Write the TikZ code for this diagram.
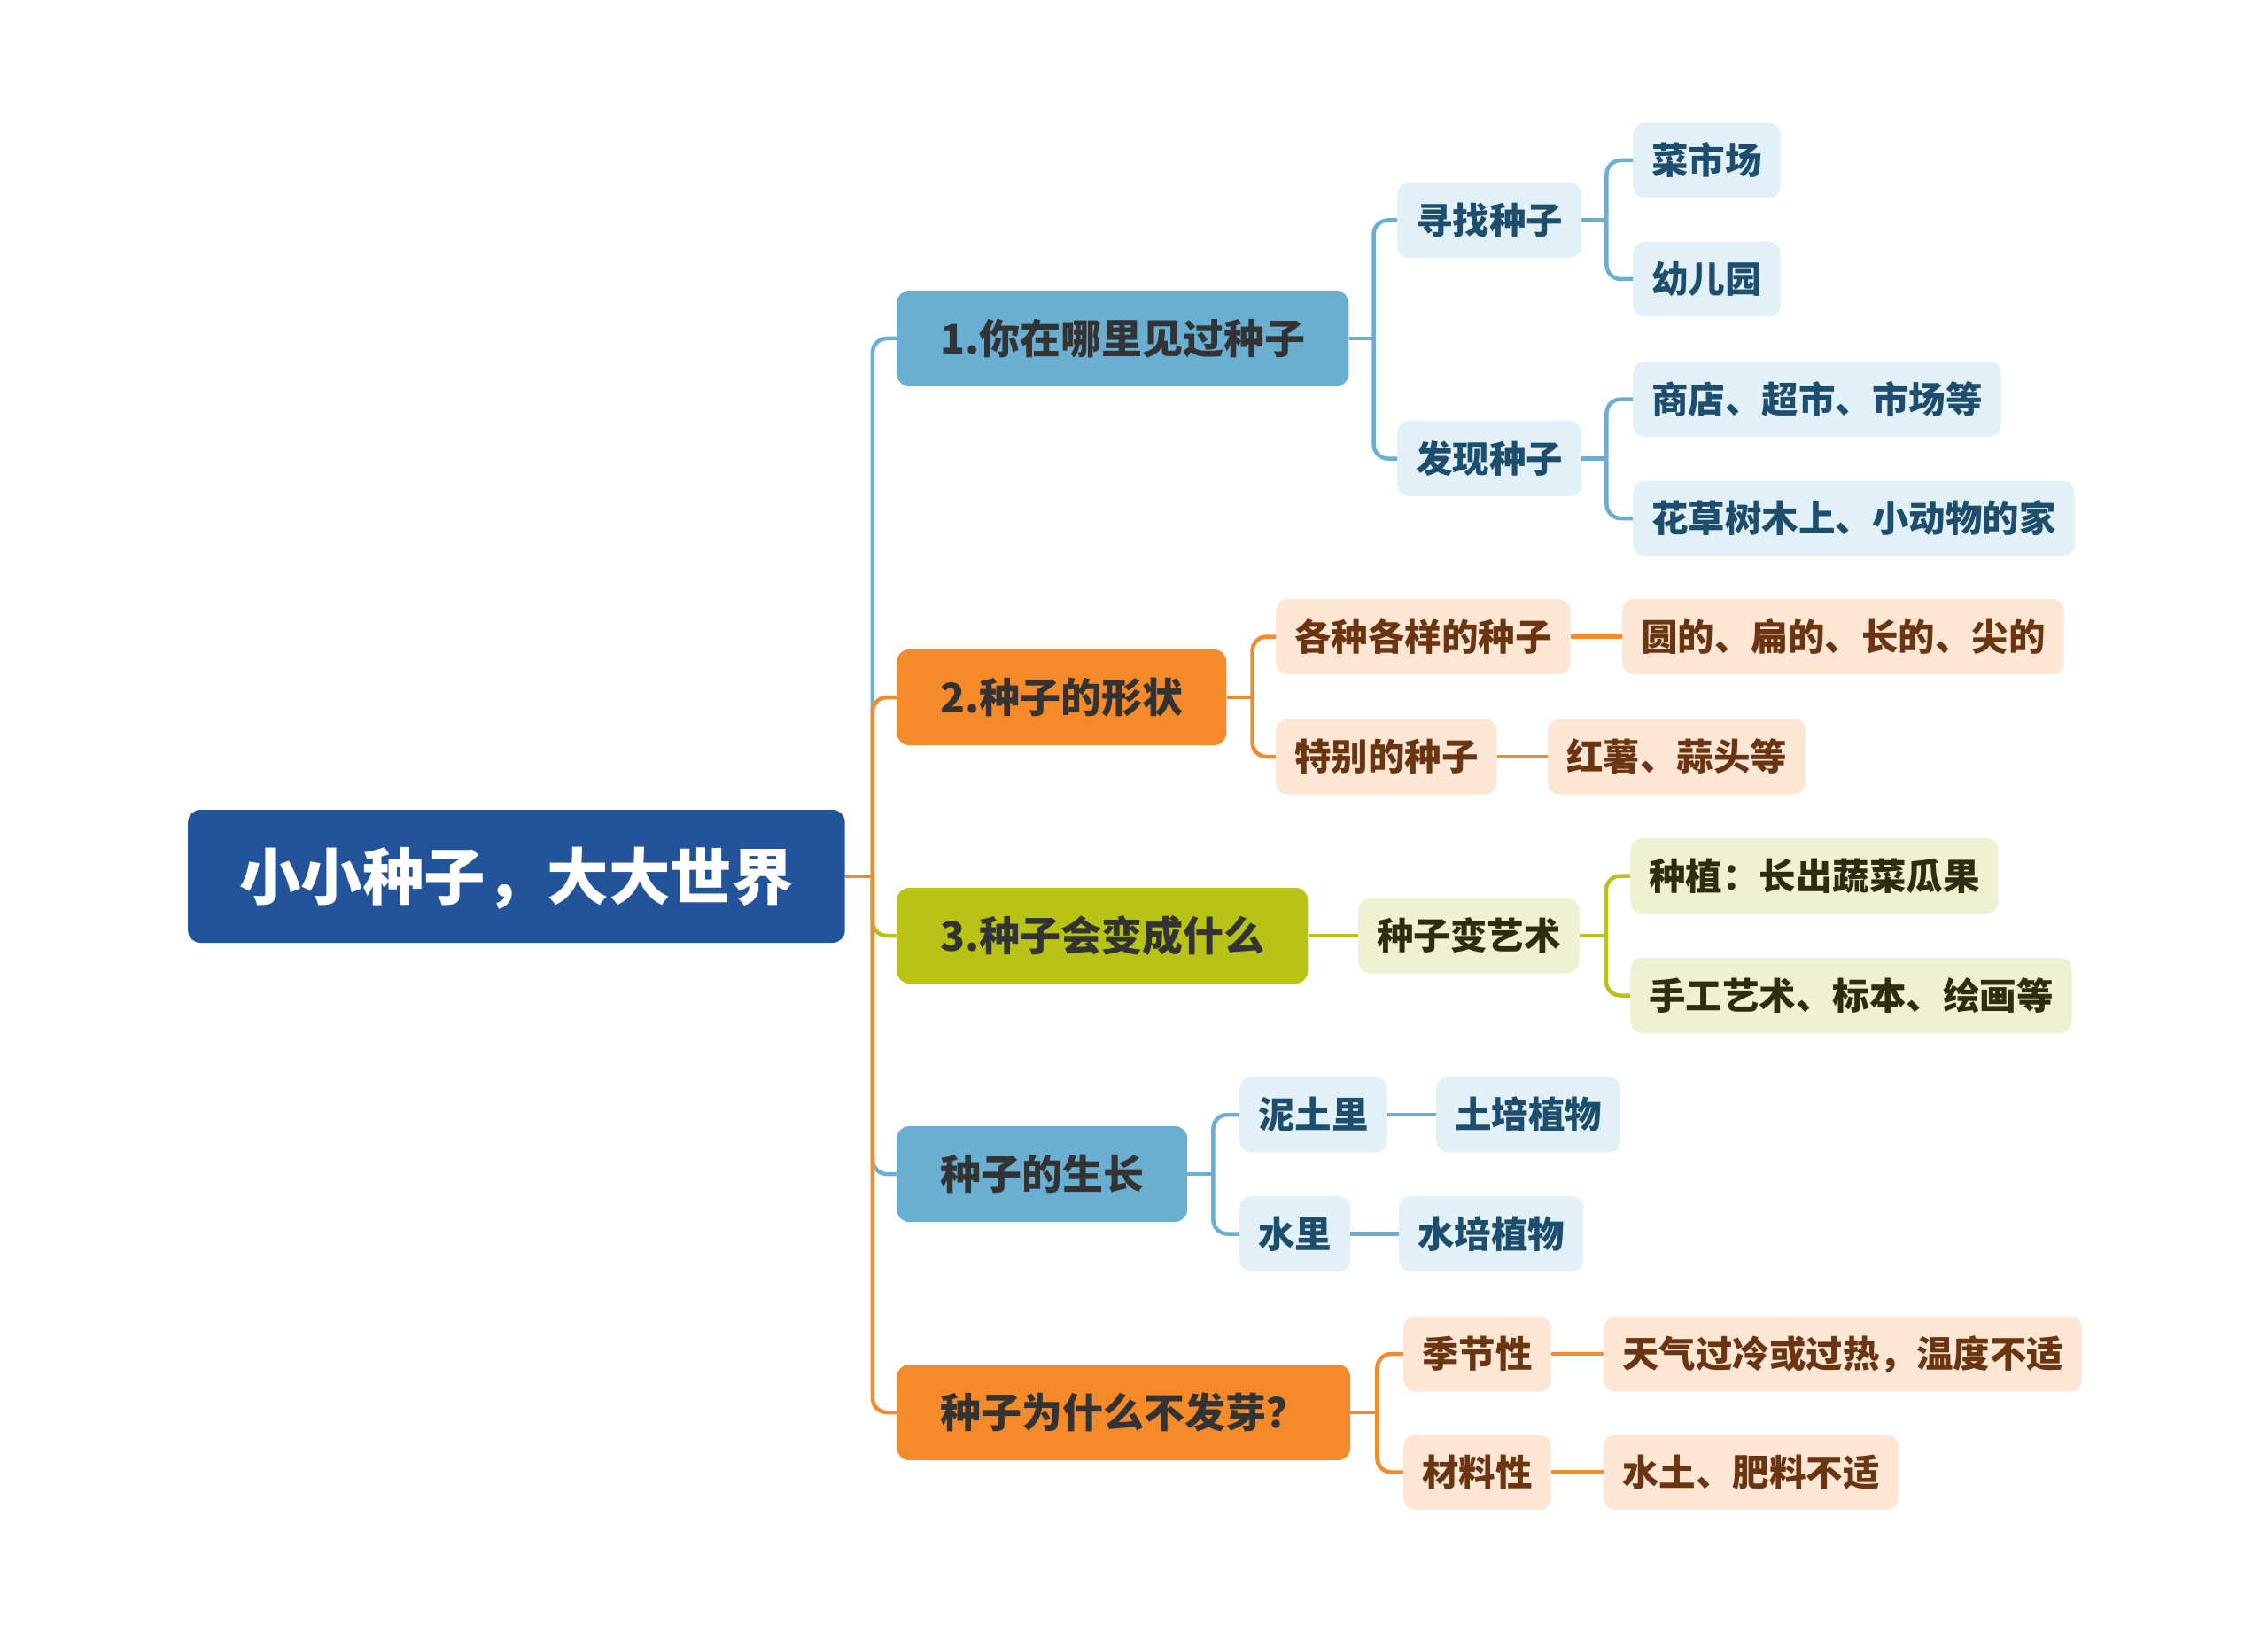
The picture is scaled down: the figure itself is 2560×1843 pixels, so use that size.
\documentclass[tikz,border=0pt]{standalone}
\usepackage{fontspec}
\setmainfont{Noto Sans CJK SC}
\usetikzlibrary{calc}
\definecolor{rootc}{HTML}{22539B}
\definecolor{bluec}{HTML}{6AAFD2}
\definecolor{orangec}{HTML}{F58A2B}
\definecolor{greenc}{HTML}{B9C316}
\definecolor{bluel}{HTML}{E2F0F8}
\definecolor{orangel}{HTML}{FDE6D4}
\definecolor{greenl}{HTML}{EFF2D2}
\definecolor{bluet}{HTML}{1D4E6E}
\definecolor{oranget}{HTML}{6B3511}
\definecolor{greent}{HTML}{2D2D12}
\definecolor{maint}{HTML}{333333}
\tikzset{
  rootnode/.style={fill=rootc, text=white, rounded corners=14pt, minimum height=150pt,
    inner xsep=58pt, inner ysep=0pt, anchor=west, text height=52.8pt, text depth=0pt,
    font=\bfseries\fontsize{69.5pt}{72pt}\selectfont},
  lonenode/.style={rounded corners=14pt, minimum height=108pt, inner xsep=49pt, inner ysep=0pt,
    anchor=west, text=maint, text height=35pt, text depth=0pt,
    font=\bfseries\fontsize{46pt}{48pt}\selectfont},
  ltwonode/.style={rounded corners=13pt, minimum height=85pt, inner xsep=21pt, inner ysep=0pt,
    anchor=west, text height=31.5pt, text depth=0pt,
    font=\bfseries\fontsize{41.5pt}{44pt}\selectfont},
  bnode/.style={ltwonode, fill=bluel, text=bluet},
  onode/.style={ltwonode, fill=orangel, text=oranget},
  gnode/.style={ltwonode, fill=greenl, text=greent},
  link/.style={line width=4.5pt},
  elbowlink/.style={line width=4.5pt, rounded corners=16pt},
}
\begin{document}
\begin{tikzpicture}[x=1pt,y=1pt]
\useasboundingbox (0,0) rectangle (2560,-1843);
% root
\node[rootnode] (root) at (212,-989) {小小种子，大大世界};
% level 1
\node[lonenode, fill=bluec]   (n1) at (1012,-382)  {1.你在哪里见过种子};
\node[lonenode, fill=orangec] (n2) at (1012,-787)  {2.种子的形状};
\node[lonenode, fill=greenc]  (n3) at (1012,-1056) {3.种子会变成什么};
\node[lonenode, fill=bluec]   (n4) at (1012,-1325) {种子的生长};
\node[lonenode, fill=orangec] (n5) at (1012,-1594) {种子为什么不发芽？};
% branch 1
\node[bnode] (a1) at (1577,-248.5) {寻找种子};
\node[bnode] (a2) at (1577,-517.5) {发现种子};
\node[bnode] (a11) at (1843,-181) {菜市场};
\node[bnode] (a12) at (1843,-315) {幼儿园};
\node[bnode] (a21) at (1843,-450.5) {商店、超市、市场等};
\node[bnode] (a22) at (1843,-585) {花草树木上、小动物的家};
% branch 2
\node[onode] (b1) at (1440,-718.5) {各种各样的种子};
\node[onode] (b2) at (1440,-854) {特别的种子};
\node[onode] (b11) at (1831,-718.5) {圆的、扁的、长的、尖的};
\node[onode] (b21) at (1747,-854) {红薯、蒜头等};
% branch 3
\node[gnode] (c1) at (1533,-1056) {种子变艺术};
\node[gnode] (c11) at (1840,-988.5) {种植：长出蔬菜瓜果};
\node[gnode] (c12) at (1840,-1123.5) {手工艺术、标本、绘画等};
% branch 4
\node[bnode] (d1) at (1399,-1258) {泥土里};
\node[bnode] (d2) at (1399,-1392.5) {水里};
\node[bnode] (d11) at (1621,-1258) {土培植物};
\node[bnode] (d21) at (1579,-1392.5) {水培植物};
% branch 5
\node[onode] (e1) at (1584,-1528) {季节性};
\node[onode] (e2) at (1584,-1661.5) {材料性};
\node[onode] (e11) at (1810,-1528) {天气过冷或过热，温度不适};
\node[onode] (e21) at (1810,-1661.5) {水土、肥料不适};

% trunk
\coordinate (t) at ($(root.east)+(31,0)$);
\draw[elbowlink, bluec]   (t) |- (n1.west);
\draw[elbowlink, orangec] (t) |- (n2.west);
\draw[elbowlink, greenc]  (t) |- (n3.west);
\draw[elbowlink, bluec]   (t) |- (n4.west);
\draw[elbowlink, orangec] (t) |- (n5.west);
\draw[link, orangec] (root.east) -- (t);

% branch 1 links
\coordinate (j1) at ($(n1.east)+(28,0)$);
\draw[link, bluec] (n1.east) -- (j1);
\draw[elbowlink, bluec] (j1) |- (a1.west);
\draw[elbowlink, bluec] (j1) |- (a2.west);
\coordinate (j11) at ($(a1.east)+(28,0)$);
\draw[link, bluec] (a1.east) -- (j11);
\draw[elbowlink, bluec] (j11) |- (a11.west);
\draw[elbowlink, bluec] (j11) |- (a12.west);
\coordinate (j12) at ($(a2.east)+(28,0)$);
\draw[link, bluec] (a2.east) -- (j12);
\draw[elbowlink, bluec] (j12) |- (a21.west);
\draw[elbowlink, bluec] (j12) |- (a22.west);

% branch 2 links
\coordinate (j2) at ($(n2.east)+(29,0)$);
\draw[link, orangec] (n2.east) -- (j2);
\draw[elbowlink, orangec] (j2) |- (b1.west);
\draw[elbowlink, orangec] (j2) |- (b2.west);
\draw[link, orangec] (b1.east) -- (b11.west);
\draw[link, orangec] (b2.east) -- (b21.west);

% branch 3 links
\draw[link, greenc] (n3.east) -- (c1.west);
\coordinate (j3) at ($(c1.east)+(30,0)$);
\draw[link, greenc] (c1.east) -- (j3);
\draw[elbowlink, greenc] (j3) |- (c11.west);
\draw[elbowlink, greenc] (j3) |- (c12.west);

% branch 4 links
\coordinate (j4) at ($(n4.east)+(29,0)$);
\draw[link, bluec] (n4.east) -- (j4);
\draw[elbowlink, bluec] (j4) |- (d1.west);
\draw[elbowlink, bluec] (j4) |- (d2.west);
\draw[link, bluec] (d1.east) -- (d11.west);
\draw[link, bluec] (d2.east) -- (d21.west);

% branch 5 links
\coordinate (j5) at ($(n5.east)+(30,0)$);
\draw[link, orangec] (n5.east) -- (j5);
\draw[elbowlink, orangec] (j5) |- (e1.west);
\draw[elbowlink, orangec] (j5) |- (e2.west);
\draw[link, orangec] (e1.east) -- (e11.west);
\draw[link, orangec] (e2.east) -- (e21.west);
\end{tikzpicture}
\end{document}
